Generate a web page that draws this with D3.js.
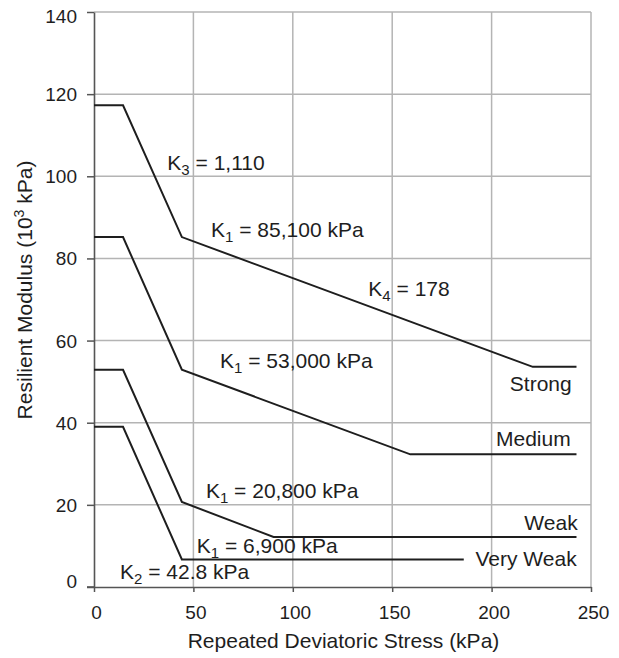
<!DOCTYPE html>
<html lang="en">
<head>
    <meta charset="UTF-8">
    <title>Resilient Modulus vs Repeated Deviatoric Stress</title>
    <script src="https://cdnjs.cloudflare.com/ajax/libs/d3/7.8.5/d3.min.js"></script>
    <style>
        body { margin: 0; background: #fff; }
        svg { display: block; font-family: "Liberation Sans", Arial, sans-serif; }
        .grid line { stroke: #b4b4b4; stroke-width: 1.5px; }
        .curve { fill: none; stroke: #1e1e1e; stroke-width: 2px; }
        .txt { fill: #1e1e1e; }
    </style>
</head>
<body>
    <svg width="619" height="658"></svg>
    <script>
        // soil classes, each curve as stress (kPa) / modulus (10^3 kPa) pairs
        const classes = ["Strong", "Medium", "Weak", "Very Weak"];
        const strongX = [0, 14.6, 44.2, 220.7, 242.7];
        const strongY = [117.3, 117.3, 85.2, 53.6, 53.6];
        const mediumX = [0, 14.6, 44.2, 159.1, 242.7];
        const mediumY = [85.2, 85.2, 52.9, 32.3, 32.3];
        const weakX = [0, 14.6, 44.2, 90.3, 242.7];
        const weakY = [52.9, 52.9, 20.7, 12.2, 12.2];
        const veryWeakX = [0, 14.6, 44.2, 186];
        const veryWeakY = [39, 39, 6.7, 6.7];

        const xTicks = [0, 50, 100, 150, 200, 250];
        const yTicks = [0, 20, 40, 60, 80, 100, 120, 140];

        // parameter annotations: [K symbol, subscript, rest of text]
        const paramLabels = [
            ["K", "3", " = 1,110"],
            ["K", "1", " = 85,100 kPa"],
            ["K", "4", " = 178"],
            ["K", "1", " = 53,000 kPa"],
            ["K", "1", " = 20,800 kPa"],
            ["K", "1", " = 6,900 kPa"],
            ["K", "2", " = 42.8 kPa"]
        ];
        // where each annotation sits, in data units (left, baseline)
        const paramPos = [[36.9, 101.5], [58.9, 85.3], [138, 70.9], [63.4, 53.3],
                          [56.3, 21.6], [51.7, 8.2], [13.1, 1.9]];
        // class names are right aligned (right end, baseline)
        const classPos = [[240.3, 47.8], [239.8, 34.4], [243.3, 14.0], [242.8, 5.1]];

        const svg = d3.select("svg");
        const plotL = 94, plotT = 12, plotR = 591, plotB = 587;

        const x = d3.scaleLinear().domain([0, 250]).range([plotL, plotR]);
        const y = d3.scaleLinear().domain([0, 140]).range([plotB, plotT]);

        // grid
        const grid = svg.append("g").attr("class", "grid");
        grid.selectAll(".h").data(yTicks.slice(1)).enter().append("line")
            .attr("x1", plotL).attr("x2", plotR)
            .attr("y1", d => y(d)).attr("y2", d => y(d));
        grid.selectAll(".v").data(xTicks.slice(1)).enter().append("line")
            .attr("y1", plotT).attr("y2", plotB)
            .attr("x1", d => x(d)).attr("x2", d => x(d));

        // axes
        const xAxis = svg.append("g")
            .attr("transform", `translate(0,${plotB})`)
            .call(d3.axisBottom(x).tickValues(xTicks).tickSize(5).tickSizeOuter(0).tickPadding(14));
        const yAxis = svg.append("g")
            .attr("transform", `translate(${plotL},0)`)
            .call(d3.axisLeft(y).tickValues(yTicks).tickSize(7).tickSizeOuter(0).tickPadding(10));

        [xAxis, yAxis].forEach(a => {
            a.select(".domain").attr("stroke", "#555").attr("stroke-width", 1.6);
            a.selectAll(".tick line").attr("stroke", "#555").attr("stroke-width", 1.5);
            a.selectAll("text").attr("fill", "#1e1e1e").style("font-size", "19px")
                .style("font-family", "'Liberation Sans', Arial, sans-serif");
        });
        xAxis.selectAll("text").attr("dx", 2);
        // end labels sit a little inside the range in the original
        yAxis.selectAll("text").attr("dy", d => d === 140 ? "0.55em" : d === 0 ? "0.02em" : "0.34em");
        // axis line runs a little past the y axis
        xAxis.append("line").attr("x1", plotL - 7).attr("x2", plotL)
            .attr("stroke", "#555").attr("stroke-width", 1.6);

        // curves
        const series = [[strongX, strongY], [mediumX, mediumY], [weakX, weakY], [veryWeakX, veryWeakY]];
        const line = d3.line().x(d => x(d[0])).y(d => y(d[1]));
        svg.selectAll(".curve").data(series).enter().append("path")
            .attr("class", "curve")
            .attr("d", s => line(d3.zip(s[0], s[1])));

        // parameter labels
        const pl = svg.selectAll(".param").data(paramLabels).enter().append("text")
            .attr("class", "txt param")
            .attr("x", (d, i) => x(paramPos[i][0]))
            .attr("y", (d, i) => y(paramPos[i][1]))
            .style("font-size", "21px");
        pl.append("tspan").text(d => d[0]);
        pl.append("tspan").attr("dy", 5).style("font-size", "15px").text(d => d[1]);
        pl.append("tspan").attr("dy", -5).text(d => d[2]);

        // class labels
        svg.selectAll(".cls").data(classes).enter().append("text")
            .attr("class", "txt cls")
            .attr("x", (d, i) => x(classPos[i][0]))
            .attr("y", (d, i) => y(classPos[i][1]))
            .attr("text-anchor", "end")
            .style("font-size", "21px")
            .text(d => d);

        // axis titles
        svg.append("text").attr("class", "txt")
            .attr("x", (plotL + plotR) / 2 + 1).attr("y", 648)
            .attr("text-anchor", "middle").style("font-size", "21px")
            .text("Repeated Deviatoric Stress (kPa)");

        const yt = svg.append("text").attr("class", "txt")
            .attr("transform", "translate(32,290) rotate(-90)")
            .attr("text-anchor", "middle").style("font-size", "21px");
        yt.append("tspan").text("Resilient Modulus (10");
        yt.append("tspan").attr("dy", -8).style("font-size", "14px").text("3");
        yt.append("tspan").attr("dy", 8).text(" kPa)");
    </script>
</body>
</html>
